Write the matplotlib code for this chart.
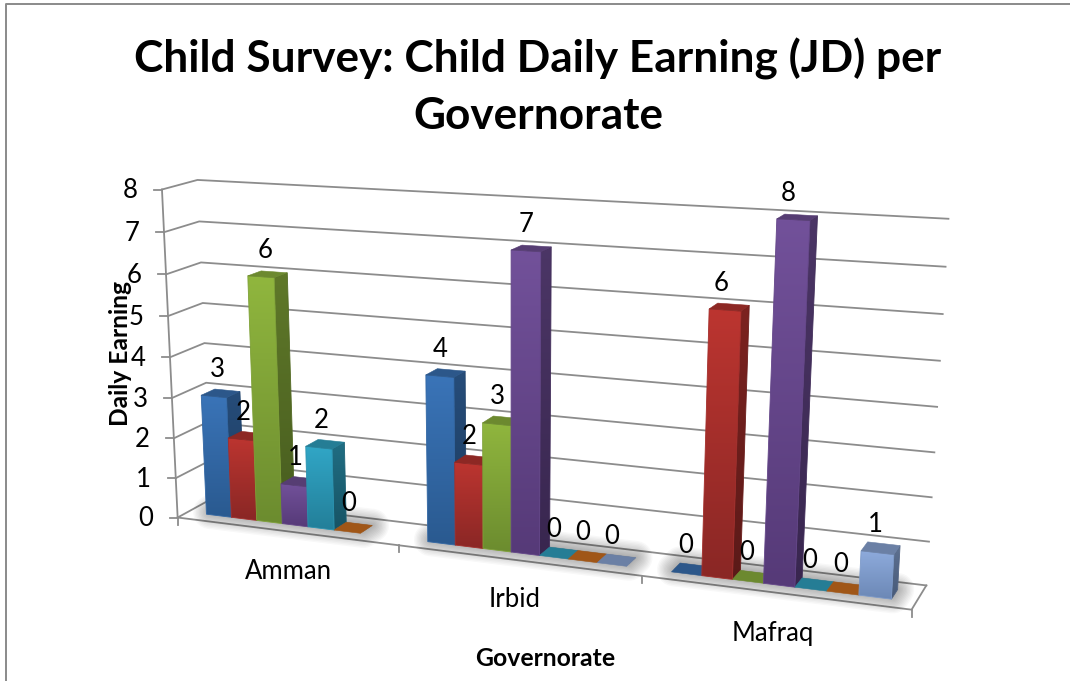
#!/usr/bin/env python3
# Child daily earning per governorate, drawn as an Excel style 3D column chart
import numpy as np
import matplotlib
matplotlib.use("Agg")
import matplotlib.pyplot as plt
from matplotlib.colors import to_rgb
from matplotlib.patches import Polygon

plt.rcParams['font.family'] = ['Lato', 'DejaVu Sans']

governorates = ["Amman", "Irbid", "Mafraq"]
series_1 = [3, 4, 0]
series_2 = [2, 2, 6]
series_3 = [6, 3, 0]
series_4 = [1, 7, 8]
series_5 = [2, 0, 0]
series_6 = [0, 0, 0]
series_7 = [None, 0, 1]
all_series = [series_1, series_2, series_3, series_4, series_5, series_6, series_7]
y_ticks = list(range(9))

# light top / dark bottom of each column front
fronts = [("#3a74b8", "#2a5a90"), ("#bc3530", "#8a2725"), ("#90b63e", "#6c8c2f"),
          ("#72519a", "#563a78"), ("#31a6c6", "#237f99"), ("#d5721f", "#b8611a"),
          ("#8eabdc", "#6c88b6")]

# anchor points of the 3D box: (category, height, depth) -> pixel
anchors = [((0, 0, 0), (180, 516)), ((3, 0, 0), (911, 612)),
           ((0, 0, 1), (210, 500)), ((3, 0, 1), (927, 583)),
           ((0, 8, 0), (160, 189)), ((0, 8, 1), (200, 180)),
           ((3, 8, 1), (948, 219)), ((0, 2, 1), (206, 423)),
           ((3, 6, 1), (943, 314))]


def fitProjection(points):
    rows, rhs = [], []
    for (x, y, z), (u, v) in points:
        rows.append([x, y, z, 1, 0, 0, 0, 0, -u * x, -u * y, -u * z])
        rows.append([0, 0, 0, 0, x, y, z, 1, -v * x, -v * y, -v * z])
        rhs += [u, v]
    p = np.linalg.lstsq(np.array(rows, float), np.array(rhs, float), rcond=None)[0]
    return np.append(p, 1).reshape(3, 4)


P = fitProjection(anchors)


def proj(x, y, z):
    u, v, w = P @ np.array([x, y, z, 1.0])
    return u / w, v / w


def shade(color, factor):
    return tuple(c * factor for c in to_rgb(color))


def gradientPoly(ax, pts, top, bottom, zorder):
    a, b = np.array(to_rgb(top)), np.array(to_rgb(bottom))
    # the outline hides the rough edge of the clipped image
    poly = Polygon(pts, closed=True, facecolor="none", edgecolor=tuple((a + b) / 2),
                   lw=0.6, zorder=zorder + 0.01)
    ax.add_patch(poly)
    xs, ys = zip(*pts)
    t = np.linspace(0, 1, 64)[:, None, None]
    img = a[None, None, :] * (1 - t) + b[None, None, :] * t
    im = ax.imshow(img, extent=(min(xs), max(xs), max(ys), min(ys)), aspect="auto",
                   interpolation="bilinear", zorder=zorder)
    im.set_clip_path(poly)


def plot():
    fig = plt.figure(figsize=(10.7, 6.81), dpi=100)
    ax = fig.add_axes([0, 0, 1, 1])
    ax.set_axis_off()

    grid = "#8c8c8c"
    # chart frame, only top and left are in the crop
    ax.plot([6, 6, 1070], [681, 3.5, 3.5], color="#8a8a8a", lw=1.4, zorder=1)

    for v in y_ticks:
        a, b, c = proj(0, v, 0), proj(0, v, 1), proj(3, v, 1)
        ax.plot([a[0], b[0], c[0]], [a[1], b[1], c[1]], color=grid, lw=1.3, zorder=2)
        ax.plot([a[0], a[0] - 8], [a[1], a[1]], color=grid, lw=1.3, zorder=2)
        ax.text(a[0] - 32, a[1] + 1, str(v), fontsize=18.5, ha="center", va="center", zorder=9)
    a, b = proj(0, 0, 0), proj(0, 8, 0)
    ax.plot([a[0], b[0]], [a[1], b[1]], color=grid, lw=1.3, zorder=2)
    a, b, c = proj(0, 0, 0), proj(3, 0, 0), proj(3, 0, 1)
    ax.plot([a[0], b[0], c[0]], [a[1], b[1], c[1]], color=grid, lw=1.3, zorder=2)
    for i in range(len(governorates) + 1):
        a = proj(i, 0, 0)
        ax.plot([a[0], a[0]], [a[1], a[1] + 7], color=grid, lw=1.3, zorder=2)

    n = len(all_series)
    gap = 1.5
    width = 1 / (n + gap)
    d0, d1 = 0.3, 0.7

    for g, name in enumerate(governorates):
        left = g + gap / 2 * width
        used = sum(values[g] is not None for values in all_series)
        # soft shadow on the floor under the group
        foot = [proj(left, 0, d0 + 0.1), proj(left + used * width, 0, d0 + 0.1),
                proj(left + used * width, 0, d1), proj(left, 0, d1)]
        for lw in np.linspace(24, 2, 12):
            ax.add_patch(Polygon(foot, closed=True, facecolor=(0, 0, 0, 0.028),
                                 edgecolor=(0, 0, 0, 0.028), lw=lw, joinstyle="round", zorder=3))

        for s, values in enumerate(all_series):
            val = values[g]
            if val is None:
                continue
            x0, x1 = left + s * width, left + (s + 1) * width
            top, bottom = fronts[s]
            z = 4 + g * 10 + s
            # side, front and top faces of the column
            if val > 0:
                side = [proj(x1, val, d0), proj(x1, val, d1), proj(x1, 0, d1), proj(x1, 0, d0)]
                gradientPoly(ax, side, shade(top, 0.66), shade(bottom, 0.66), z)
                front = [proj(x0, val, d0), proj(x1, val, d0), proj(x1, 0, d0), proj(x0, 0, d0)]
                gradientPoly(ax, front, top, bottom, z + 0.1)
            lid = [proj(x0, val, d0), proj(x1, val, d0), proj(x1, val, d1), proj(x0, val, d1)]
            ax.add_patch(Polygon(lid, closed=True, facecolor=shade(top, 0.75),
                                 edgecolor=shade(top, 0.75), lw=0.4, zorder=z + 0.2))

            u, w = proj((x0 + x1) / 2, val, 0.5)
            ax.text(u - 5 + (1 - g) * val * 0.5, w - 24, str(val), fontsize=18.5,
                    ha="center", va="center", zorder=100)

    label_spots = [(0.49, 41), (0.47, 40), (0.48, 42)]
    for g, name in enumerate(governorates):
        u, w = proj(g + label_spots[g][0], 0, 0)
        ax.text(u + 5, w + label_spots[g][1], name, fontsize=18.5, ha="center", va="center", zorder=9)

    ax.text(538, 87, "Child Survey: Child Daily Earning (JD) per\nGovernorate", fontsize=31.8,
            fontweight="bold", ha="center", va="center", linespacing=1.46, zorder=9)
    ax.text(121, 354, "Daily Earning", fontsize=17.7, fontweight="bold", rotation=90,
            ha="center", va="center", zorder=99)
    ax.text(545, 658, "Governorate", fontsize=17.8, fontweight="bold", ha="center", va="center", zorder=9)

    ax.set_xlim(0, 1070)
    ax.set_ylim(681, 0)
    fig.savefig("out.png", dpi=100)


if __name__ == '__main__':
    plot()
